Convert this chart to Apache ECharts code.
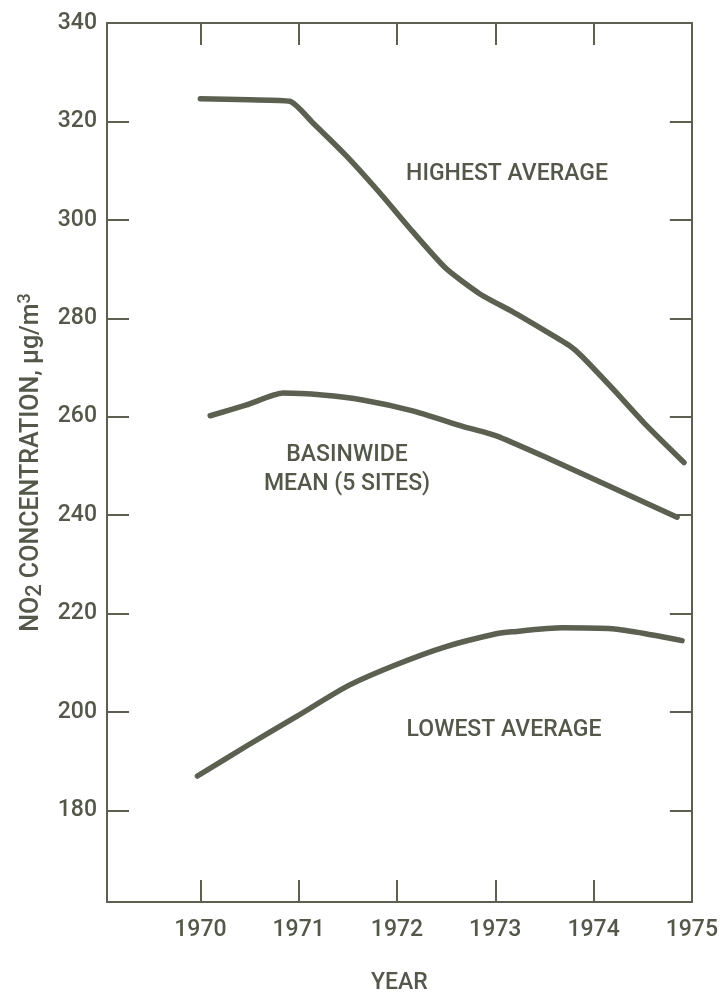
<!DOCTYPE html>
<html>
<head>
<meta charset="utf-8">
<title>NO2 concentration trends, 1970-1975</title>
<script src="https://cdn.jsdelivr.net/npm/echarts@6/dist/echarts.min.js"></script>
<style>
  html, body { margin: 0; padding: 0; background: #ffffff; }
  #chart { width: 721px; height: 1000px; }
</style>
</head>
<body>
<div id="chart"></div>
<script>
// Annual NO2 averages, [year, µg/m3]
const highestAverage = [
  [1970.0, 324.6], [1970.5, 324.4], [1970.91, 324.1], [1971.14, 319.8], [1971.49, 312.9],
  [1971.82, 305.6], [1972.16, 297.6], [1972.50, 290.1], [1972.84, 285.0],
  [1973.17, 281.4], [1973.52, 277.3], [1973.75, 274.5], [1973.88, 272.3],
  [1974.19, 265.8], [1974.53, 258.4], [1974.92, 250.7]
];
const basinwideMean = [
  [1970.10, 260.2], [1970.47, 262.4], [1970.84, 264.8], [1971.24, 264.4],
  [1971.65, 263.4], [1972.16, 261.2], [1972.66, 258.1], [1973.01, 256.1],
  [1973.52, 251.7], [1974.19, 245.6], [1974.85, 239.6]
];
const lowestAverage = [
  [1969.97, 187.0], [1970.47, 193.1], [1970.98, 199.1], [1971.49, 205.2],
  [1971.99, 209.6], [1972.50, 213.3], [1973.01, 215.9], [1973.17, 216.3],
  [1973.68, 217.1], [1974.19, 216.9], [1974.53, 215.9], [1974.90, 214.5]
];

const yearTicks = [1970, 1971, 1972, 1973, 1974, 1975];
const concentrationTicks = [180, 200, 220, 240, 260, 280, 300, 320, 340];

const seriesLabels = {
  highest: 'HIGHEST AVERAGE',
  basinwide: 'BASINWIDE\nMEAN (5 SITES)',
  lowest: 'LOWEST AVERAGE'
};

const INK = '#5b6051';
const TEXT = '#54584a';
const FONT = "Roboto, 'DejaVu Sans Condensed', sans-serif";
const WEIGHT = 500;

const chart = echarts.init(document.getElementById('chart'), null, { renderer: 'canvas' });

const axisLineStyle = { show: true, lineStyle: { color: INK, width: 2 } };
const innerTick = (values) => ({
  show: true, inside: true, length: 22, customValues: values,
  lineStyle: { color: INK, width: 2 }
});

function lineSeries(name, data) {
  return {
    name: name,
    type: 'line',
    data: data,
    showSymbol: false,
    smooth: 0.2,
    silent: true,
    lineStyle: { color: INK, width: 5.5, cap: 'round', join: 'round' }
  };
}

const labelFont = WEIGHT + ' 23px ' + FONT;

chart.setOption({
  backgroundColor: '#ffffff',
  animation: false,
  textStyle: { fontFamily: FONT, color: TEXT },
  grid: { left: 107, right: 28, top: 23, bottom: 93 },
  xAxis: [
    {
      type: 'value', position: 'bottom', min: 1969.05, max: 1975,
      axisLine: axisLineStyle,
      axisTick: innerTick(yearTicks),
      axisLabel: {
        customValues: yearTicks, margin: 17, color: TEXT,
        fontFamily: FONT, fontSize: 23, fontWeight: WEIGHT,
        formatter: (v) => String(Math.round(v))
      },
      splitLine: { show: false },
      name: 'YEAR', nameLocation: 'middle', nameGap: 70,
      nameTextStyle: { color: TEXT, fontFamily: FONT, fontSize: 23, fontWeight: WEIGHT }
    },
    {
      type: 'value', position: 'top', min: 1969.05, max: 1975,
      axisLine: axisLineStyle,
      axisTick: innerTick(yearTicks),
      axisLabel: { show: false },
      splitLine: { show: false }
    }
  ],
  yAxis: [
    {
      type: 'value', position: 'left', min: 161.4, max: 340,
      axisLine: axisLineStyle,
      axisTick: innerTick(concentrationTicks),
      axisLabel: {
        customValues: concentrationTicks, margin: 10, color: TEXT,
        fontFamily: FONT, fontSize: 23, fontWeight: WEIGHT
      },
      splitLine: { show: false },
      name: 'NO{sub|2} CONCENTRATION, μg/m{sup|3}',
      nameLocation: 'middle', nameGap: 52, nameRotate: 90,
      nameTextStyle: {
        color: TEXT, fontFamily: FONT, fontSize: 25, fontWeight: WEIGHT, lineHeight: 30,
        rich: {
          sub: { fontFamily: FONT, fontSize: 22, fontWeight: WEIGHT, color: TEXT, lineHeight: 21, verticalAlign: 'bottom' },
          sup: { fontFamily: FONT, fontSize: 18, fontWeight: WEIGHT, color: TEXT, lineHeight: 18, verticalAlign: 'top' }
        }
      }
    },
    {
      type: 'value', position: 'right', min: 161.4, max: 340,
      axisLine: axisLineStyle,
      axisTick: innerTick(concentrationTicks),
      axisLabel: { show: false },
      splitLine: { show: false }
    }
  ],
  series: [
    lineSeries('highest', highestAverage),
    lineSeries('basinwide', basinwideMean),
    lineSeries('lowest', lowestAverage)
  ],
  graphic: [
    {
      type: 'text', x: 507, y: 174,
      style: {
        text: seriesLabels.highest, fill: TEXT, font: labelFont,
        textAlign: 'center', textVerticalAlign: 'middle'
      }
    },
    {
      type: 'text', x: 347, y: 470,
      style: {
        text: seriesLabels.basinwide, fill: TEXT, font: labelFont,
        textAlign: 'center', textVerticalAlign: 'middle', lineHeight: 29
      }
    },
    {
      type: 'text', x: 504, y: 730,
      style: {
        text: seriesLabels.lowest, fill: TEXT, font: labelFont,
        textAlign: 'center', textVerticalAlign: 'middle'
      }
    }
  ]
});
</script>
</body>
</html>
